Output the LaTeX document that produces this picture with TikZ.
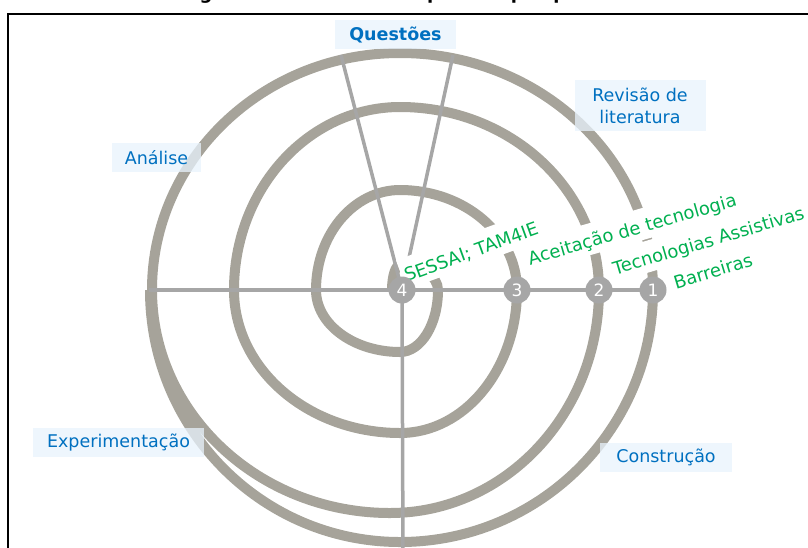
\documentclass[tikz,border=0pt]{standalone}
\usepackage{fontspec}
\setmainfont{DejaVu Sans}
\definecolor{ringc}{RGB}{166,163,154}
\definecolor{spokec}{RGB}{166,166,166}
\definecolor{lblue}{RGB}{0,112,192}
\definecolor{lgreen}{RGB}{0,176,80}
\definecolor{boxbg}{RGB}{232,243,252}
\pgfdeclarelayer{bg}
\pgfdeclarelayer{mid}
\pgfsetlayers{bg,mid,main}
\begin{document}
\begin{tikzpicture}[x=1pt,y=-1pt,
  ringline/.style={draw=ringc,line width=10pt},
  spokeline/.style={draw=spokec,line width=3.5pt},
  numnode/.style={circle,fill=spokec,text=white,minimum size=27pt,inner sep=0pt,font=\fontsize{17}{17}\selectfont},
  glabel/.style={fill=white,text=lgreen,inner xsep=3pt,inner ysep=2pt,text height=22pt,text depth=5pt,anchor=base west,font=\fontsize{18}{20}\selectfont},
  blabel/.style={fill=boxbg,fill opacity=0.75,text opacity=1,text=lblue,inner sep=0pt,align=center,font=\fontsize{17.5}{22}\selectfont}
]
\useasboundingbox (0,0) rectangle (808,547);
\clip (0,0) rectangle (808,547);

% title (only descenders visible)
\node[anchor=base west,inner sep=0pt,font=\bfseries\fontsize{18}{20}\selectfont] (title) at (181,-1) {Figura 1 – Modelo em espiral da pesquisa};

% frame
\draw[line width=2pt] (8,13.5) rectangle (830,570);

% number nodes
\node[numnode] (n4) at (402,290) {4};
\node[numnode] (n3) at (517,290) {3};
\node[numnode] (n2) at (599,290) {2};
\node[numnode] (n1) at (653,290) {1};

\coordinate (hl) at (149,290);
\coordinate (vb) at (403,560);
\coordinate (qa) at (341,55);
\coordinate (qb) at (453,55);

\begin{pgfonlayer}{bg}
% spiral
\draw[ringline] (392,290)
  arc[start angle=180,end angle=270,x radius=8,y radius=25]
  arc[start angle=-90,end angle=0,x radius=38,y radius=25]
  arc[start angle=0,end angle=90,x radius=38,y radius=62]
  arc[start angle=90,end angle=180,x radius=84,y radius=62]
  arc[start angle=180,end angle=270,x radius=84,y radius=100]
  arc[start angle=-90,end angle=0,x radius=117,y radius=100]
  arc[start angle=0,end angle=90,x radius=117,y radius=143]
  arc[start angle=90,end angle=180,x radius=166,y radius=143]
  arc[start angle=180,end angle=270,x radius=166,y radius=183]
  arc[start angle=-90,end angle=0,x radius=199,y radius=183]
  arc[start angle=0,end angle=90,x radius=209,y radius=223]
  arc[start angle=90,end angle=180,x radius=238,y radius=223]
  arc[start angle=180,end angle=270,x radius=248,y radius=237]
  arc[start angle=-90,end angle=0,x radius=253,y radius=237]
  arc[start angle=0,end angle=90,x radius=253,y radius=252]
  arc[start angle=90,end angle=180,x radius=250,y radius=252];
% spokes
\draw[spokeline] (hl) -- (n1.center);
\draw[spokeline] (n4.center) -- (vb);
\draw[spokeline] (qa) -- (n4.center);
\draw[spokeline] (qb) -- (n4.center);
\end{pgfonlayer}

\begin{pgfonlayer}{mid}
\node[glabel,rotate=20] (lsessai) at (404,283) {SESSAI; TAM4IE};
\node[glabel,rotate=16] (lacei) at (527,266) {Aceitação de tecnologia};
\node[glabel,rotate=16.5] (ltec) at (612,276) {Tecnologias Assistivas};
\node[glabel,rotate=17] (lbar) at (673,290) {Barreiras};

\node[blabel,minimum width=121pt,minimum height=29pt,font=\bfseries\fontsize{17.5}{20}\selectfont] (lq) at (395.5,34.5) {Questões};
\node[blabel,minimum width=131pt,minimum height=51pt] (lrev) at (640,105.5) {Revisão de\\literatura};
\node[blabel,minimum width=89pt,minimum height=29pt] (lan) at (156.5,157.5) {Análise};
\node[blabel,minimum width=171pt,minimum height=29pt] (lexp) at (118.5,442.5) {Experimentação};
\node[blabel,minimum width=132pt,minimum height=29pt] (lcon) at (666,457.5) {Construção};
\end{pgfonlayer}
\end{tikzpicture}
\end{document}
